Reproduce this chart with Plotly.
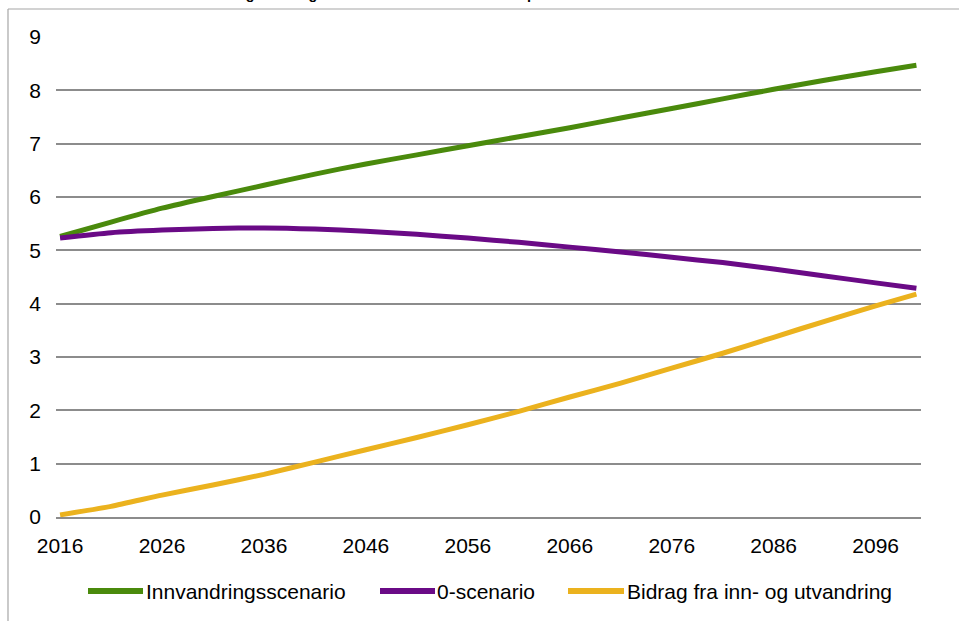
import plotly.graph_objects as go

# Population (millions) under two projection scenarios, and the migration contribution
years = [2016, 2021, 2026, 2031, 2036, 2041, 2046, 2051, 2056, 2061,
         2066, 2071, 2076, 2081, 2086, 2091, 2096, 2100]
innvandring = [5.26, 5.53, 5.79, 6.01, 6.22, 6.43, 6.62, 6.79, 6.96, 7.13,
               7.30, 7.48, 7.66, 7.84, 8.02, 8.19, 8.35, 8.47]
null_scenario = [5.23, 5.33, 5.38, 5.41, 5.42, 5.40, 5.36, 5.30, 5.23, 5.15,
                 5.06, 4.97, 4.87, 4.77, 4.65, 4.52, 4.39, 4.29]
bidrag = [0.04, 0.20, 0.41, 0.60, 0.80, 1.03, 1.26, 1.49, 1.73, 1.98,
          2.25, 2.51, 2.79, 3.07, 3.37, 3.67, 3.96, 4.18]

series_names = ["Innvandringsscenario", "0-scenario", "Bidrag fra inn- og utvandring"]
series_colors = ["#4a8a0c", "#6a0a86", "#ebb21e"]

year_ticks = [2016, 2026, 2036, 2046, 2056, 2066, 2076, 2086, 2096]
value_ticks = [0, 1, 2, 3, 4, 5, 6, 7, 8, 9]

title_text = "Folkemengde i Norge etter to scenarioer. Millioner personer"

FONT = "Liberation Sans, Arial, sans-serif"

fig = go.Figure()
for name, vals, col in zip(series_names, [innvandring, null_scenario, bidrag], series_colors):
    fig.add_trace(go.Scatter(
        x=years, y=vals, name=name, mode="lines",
        line=dict(color=col, width=5, shape="spline", smoothing=0.6),
        showlegend=False, hoverinfo="x+y+name",
    ))

# plot-area geometry in pixels, used to place frame / legend in paper units
W, H = 959, 621
ML, MR, MT, MB = 56, 38, 37, 104
PW, PH = W - ML - MR, H - MT - MB


def px_x(p):
    return (p - ML) / PW


def px_y(p):
    return (H - MB - p) / PH


shapes = []
# outer chart frame (top and left edges)
shapes.append(dict(type="line", xref="paper", yref="paper",
                   x0=px_x(8), y0=px_y(9), x1=px_x(W + 20), y1=px_y(9),
                   line=dict(color="#a6a6a6", width=1.2)))
shapes.append(dict(type="line", xref="paper", yref="paper",
                   x0=px_x(8), y0=px_y(9), x1=px_x(8), y1=px_y(H + 20),
                   line=dict(color="#a6a6a6", width=1.2)))

# legend: line samples and labels
legend_y = 591
legend_items = [(88, 143, 144), (380, 435, 435), (568, 624, 625)]
annotations = []
for (s0, s1, tx), name, col in zip(legend_items, series_names, series_colors):
    shapes.append(dict(type="line", xref="paper", yref="paper",
                       x0=px_x(s0), x1=px_x(s1), y0=px_y(legend_y), y1=px_y(legend_y),
                       line=dict(color=col, width=6)))
    annotations.append(dict(xref="paper", yref="paper", x=px_x(tx), y=px_y(legend_y),
                            xanchor="left", yanchor="middle", showarrow=False,
                            text=name, font=dict(family=FONT, size=21, color="#000000")))

# chart title, mostly above the visible page
annotations.append(dict(xref="paper", yref="paper", x=px_x(176), y=px_y(4),
                        xanchor="left", yanchor="bottom", showarrow=False,
                        text="<b>" + title_text + "</b>",
                        font=dict(family=FONT, size=14.5, color="#000000")))

fig.update_layout(
    width=W, height=H,
    margin=dict(l=ML, r=MR, t=MT, b=MB, pad=0),
    paper_bgcolor="white", plot_bgcolor="white",
    font=dict(family=FONT, size=21, color="#000000"),
    shapes=shapes, annotations=annotations,
    showlegend=False,
)
fig.update_xaxes(
    range=[2015.6, 2100.45], tickvals=year_ticks,
    ticktext=[str(y) for y in year_ticks],
    showgrid=False, zeroline=False,
    showline=True, linecolor="#8c8c8c", linewidth=1.5,
    ticks="", ticklabelstandoff=9,
    tickfont=dict(family=FONT, size=21, color="#000000"),
)
fig.update_yaxes(
    range=[0, 9], tickvals=value_ticks,
    showgrid=True, gridcolor="#8c8c8c", gridwidth=1.5,
    zeroline=False, showline=False,
    ticks="", ticklabelstandoff=14,
    tickfont=dict(family=FONT, size=21, color="#000000"),
)

fig.write_html("out.html")
